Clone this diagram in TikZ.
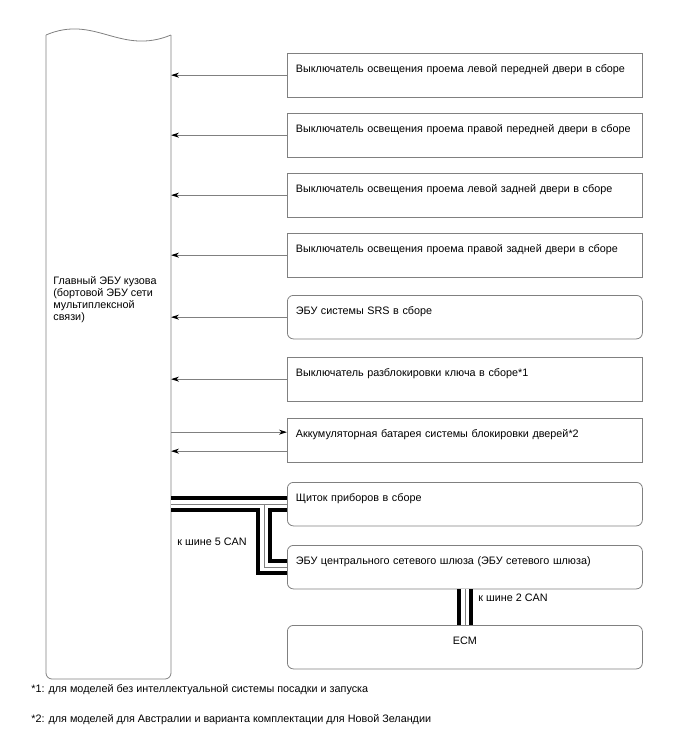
\documentclass[tikz,border=0pt]{standalone}
\usepackage{fontspec}
\setmainfont{Liberation Sans}
\usepackage{tikz}
\usetikzlibrary{arrows.meta, positioning}

\begin{document}
\begin{tikzpicture}[x=1pt, y=-1pt, line width=0.8pt, font=\fontsize{10.8}{11.7}\selectfont,
    unit/.style={draw=framegray, anchor=north west, minimum width=355pt, text width=338pt, inner xsep=8.5pt, inner ysep=8pt, text height=11pt, text depth=16.5pt, align=left},
    rnd/.style={unit, rounded corners=6pt},
    arr/.style={draw=framegray, -{Stealth[length=8pt, width=5pt, color=black]}},
    busblack/.style={line width=16pt, black},
    buswhite/.style={line width=8pt, white},
    busgray/.style={line width=0.8pt, framegray}]
      \colorlet{framegray}{black!50}
      \useasboundingbox (0,0) rectangle (688,755);
      \draw[framegray] (46,35) .. controls (95,14) and (120,56) .. (171,35);
      \draw[framegray, rounded corners=6pt] (171,35) -- (171,679) -- (46,679) -- (46,35);
      \coordinate (blk) at (171,35);
      \coordinate (jn) at (264,35);
      \node[anchor=north west, inner sep=0pt, align=left] (bcm) at (53,276.5) {Главный ЭБУ кузова\\(бортовой ЭБУ сети\\мультиплексной\\связи)};
      \node[unit] (sw1) at (287,53) {Выключатель освещения проема левой передней двери в сборе};
      \node[unit] (sw2) at (287,113) {Выключатель освещения проема правой передней двери в сборе};
      \node[unit] (sw3) at (287,173) {Выключатель освещения проема левой задней двери в сборе};
      \node[unit] (sw4) at (287,233) {Выключатель освещения проема правой задней двери в сборе};
      \node[rnd] (srs) at (287,295) {ЭБУ системы SRS в сборе};
      \node[unit] (key) at (287,357) {Выключатель разблокировки ключа в сборе*1};
      \node[unit] (bat) at (287,418) {Аккумуляторная батарея системы блокировки дверей*2};
      \node[rnd] (clu) at (287,482) {Щиток приборов в сборе};
      \node[rnd] (gw) at (287,545) {ЭБУ центрального сетевого шлюза (ЭБУ сетевого шлюза)};
      \node[rnd, align=center] (ecm) at (287,625) {ECM};
      \foreach \n in {sw1, sw2, sw3, sw4, srs, key}
        \draw[arr] (\n.west) -- (\n.west -| blk);
      \draw[arr] ([yshift=8pt]bat.west -| blk) -- ([yshift=8pt]bat.west);
      \draw[arr] ([yshift=-11pt]bat.west) -- ([yshift=-11pt]bat.west -| blk);
      \foreach \w in {busblack, buswhite, busgray} {
        \draw[\w] (blk |- clu.west) -- (clu.west);
        \draw[\w] (jn |- clu.west) |- (gw.west);
        \draw[\w] (gw.south) -- (ecm.north);
      }
      \node[anchor=west, inner sep=0pt] (can5) at (177,542) {к шине 5 CAN};
      \node[anchor=west, inner sep=0pt] (can2) at (478,598) {к шине 2 CAN};
      \node[anchor=west, inner sep=0pt] (fn1) at (31,690) {*1: для моделей без интеллектуальной системы посадки и запуска};
      \node[anchor=west, inner sep=0pt] (fn2) at (31,720) {*2: для моделей для Австралии и варианта комплектации для Новой Зеландии};
    \end{tikzpicture}
\end{document}
